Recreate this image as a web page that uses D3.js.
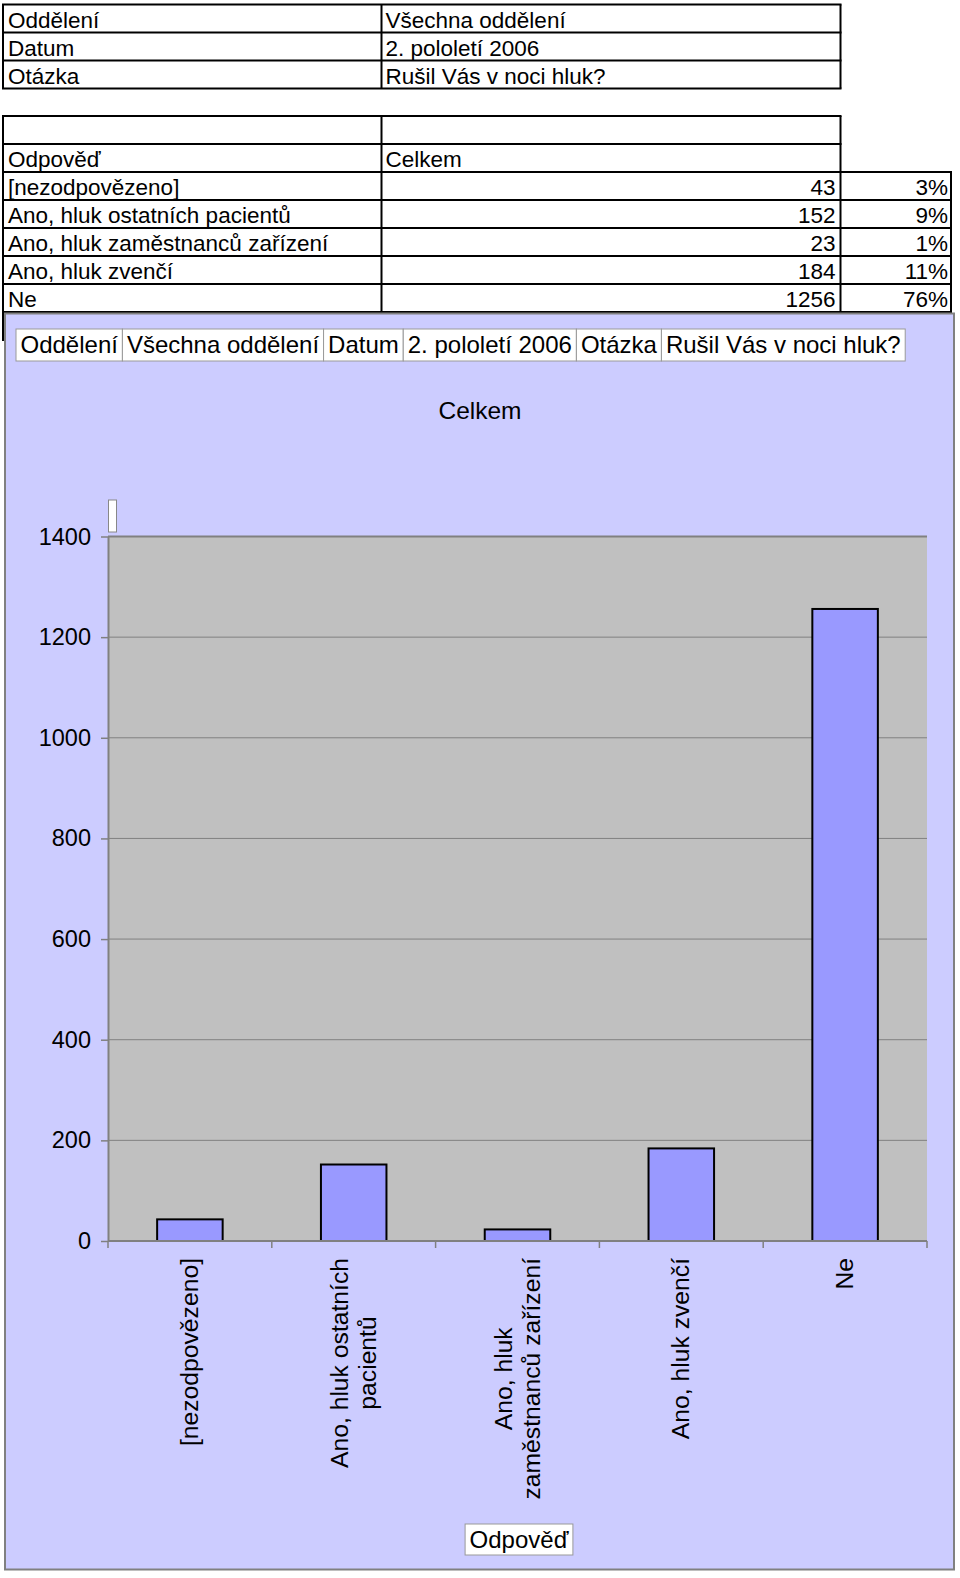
<!DOCTYPE html>
<html>
<head>
<meta charset="utf-8">
<script src="https://cdn.jsdelivr.net/npm/d3@7/dist/d3.min.js"></script>
<style>
  html, body { margin: 0; padding: 0; background: #ffffff; }
  svg { display: block; }
  text { font-family: "Liberation Sans", Arial, Helvetica, sans-serif; }
</style>
</head>
<body>
<svg id="chart" width="960" height="1578"></svg>
<script>
// ---------- data ----------
const infoLabels = ["Oddělení", "Datum", "Otázka"];
const infoValues = ["Všechna oddělení", "2. pololetí 2006", "Rušil Vás v noci hluk?"];
const tableHeader = ["Odpověď", "Celkem"];
const categories = ["[nezodpovězeno]", "Ano, hluk ostatních pacientů", "Ano, hluk zaměstnanců zařízení", "Ano, hluk zvenčí", "Ne"];
const counts = [43, 152, 23, 184, 1256];
const percents = ["3%", "9%", "1%", "11%", "76%"];
const categoryLabelLines = [["[nezodpovězeno]"], ["Ano, hluk ostatních", "pacientů"], ["Ano, hluk", "zaměstnanců zařízení"], ["Ano, hluk zvenčí"], ["Ne"]];
const headerCells = ["Oddělení", "Všechna oddělení", "Datum", "2. pololetí 2006", "Otázka", "Rušil Vás v noci hluk?"];
const chartTitle = "Celkem";
const xAxisTitle = "Odpověď";
const yTicks = [0, 200, 400, 600, 800, 1000, 1200, 1400];
const yMax = 1400;

// ---------- drawing ----------
const svg = d3.select("#chart");

// Tables
const colL = 3, colM = 381.5, colR = 840.5, colP = 951;
const rowH = 28;
const tFont = 22.5;
const tbl = svg.append("g");

function hline(x1, x2, y) {
  tbl.append("line").attr("x1", x1).attr("x2", x2).attr("y1", y).attr("y2", y)
    .attr("stroke", "#000").attr("stroke-width", 2);
}
function vline(x, y1, y2) {
  tbl.append("line").attr("x1", x).attr("x2", x).attr("y1", y1).attr("y2", y2)
    .attr("stroke", "#000").attr("stroke-width", 2);
}
function cellText(x, y, s, anchor) {
  tbl.append("text").attr("x", x).attr("y", y).attr("font-size", tFont)
    .attr("text-anchor", anchor || "start").attr("fill", "#000").text(s);
}

// table 1
const t1y = 4.5;
for (let i = 0; i <= infoLabels.length; i++) hline(colL - 1, colR + 1, t1y + i * rowH);
[colL, colM, colR].forEach(x => vline(x, t1y, t1y + infoLabels.length * rowH));
infoLabels.forEach((s, i) => {
  cellText(colL + 5, t1y + i * rowH + 23.5, s);
  cellText(colM + 4, t1y + i * rowH + 23.5, infoValues[i]);
});

// table 2
const t2y = 116;
const nRows = 2 + categories.length;
for (let i = 0; i <= nRows + 1; i++) {
  const y = t2y + i * rowH;
  hline(colL - 1, (i >= 2 ? colP : colR) + 1, y);
}
vline(colL, t2y, t2y + (nRows + 1) * rowH);
vline(colM, t2y, t2y + (nRows + 1) * rowH);
vline(colR, t2y, t2y + (nRows + 1) * rowH);
vline(colP, t2y + 2 * rowH, t2y + (nRows + 1) * rowH);
cellText(colL + 5, t2y + rowH + 23, tableHeader[0]);
cellText(colM + 4, t2y + rowH + 23, tableHeader[1]);
categories.forEach((c, i) => {
  const y = t2y + (i + 2) * rowH + 23;
  cellText(colL + 5, y, c);
  cellText(colR - 5, y, String(counts[i]), "end");
  cellText(colP - 3, y, percents[i], "end");
});

// Chart area
const chart = svg.append("g");
chart.append("rect").attr("x", 5).attr("y", 313.5).attr("width", 949).attr("height", 1256)
  .attr("fill", "#CCCCFF").attr("stroke", "#808080").attr("stroke-width", 2);

// Header cells
const hFont = 24, hPad = 4.5, hY = 329, hH = 32;
let hx = 16;
const hg = chart.append("g");
headerCells.forEach(s => {
  const g = hg.append("g");
  const r = g.append("rect").attr("y", hY).attr("height", hH)
    .attr("fill", "#fff").attr("stroke", "#999").attr("stroke-width", 1);
  const t = g.append("text").attr("x", hx + hPad).attr("y", hY + 24)
    .attr("font-size", hFont).attr("fill", "#000").text(s);
  const w = t.node().getComputedTextLength() + 2 * hPad;
  r.attr("x", hx).attr("width", w);
  hx += w;
});

// Title
chart.append("text").attr("x", 480).attr("y", 419).attr("text-anchor", "middle")
  .attr("font-size", 24.5).attr("fill", "#000").text(chartTitle);

// Plot
const pL = 108, pR = 927, pT = 536.5, pB = 1241;
const x = d3.scaleBand().domain(categories).range([pL, pR]).paddingInner(0.6).paddingOuter(0.3);
const y = d3.scaleLinear().domain([0, yMax]).range([pB, pT]);

chart.append("rect").attr("x", pL).attr("y", y(yMax)).attr("width", pR - pL).attr("height", pB - y(yMax))
  .attr("fill", "#C0C0C0");

// gridlines
chart.append("g").selectAll("line").data(yTicks.filter(d => d > 0)).join("line")
  .attr("x1", pL).attr("x2", pR).attr("y1", d => y(d)).attr("y2", d => y(d))
  .attr("stroke", "#808080").attr("stroke-width", d => d === yMax ? 2 : 1);

// small legend-like marker
chart.append("rect").attr("x", 108.5).attr("y", 500).attr("width", 8).attr("height", 32)
  .attr("fill", "#fff").attr("stroke", "#888").attr("stroke-width", 1);

// bars
chart.append("g").selectAll("rect").data(categories).join("rect")
  .attr("x", d => x(d)).attr("width", x.bandwidth())
  .attr("y", (d, i) => y(counts[i])).attr("height", (d, i) => pB - y(counts[i]))
  .attr("fill", "#9999FF").attr("stroke", "#000").attr("stroke-width", 2);

// y axis
const yAxis = d3.axisLeft(y).tickValues(yTicks).tickSize(7).tickSizeOuter(0).tickPadding(10).tickFormat(d3.format("d"));
const yg = chart.append("g").attr("transform", `translate(${pL},0)`).call(yAxis);
yg.select(".domain").attr("stroke", "#808080").attr("stroke-width", 2);
yg.selectAll(".tick line").attr("stroke", "#808080").attr("stroke-width", 1.5);
yg.selectAll(".tick text").attr("font-size", 23.5).attr("fill", "#000")
  .attr("font-family", "Liberation Sans, Arial, sans-serif");

// x axis: line and boundary ticks
const boundaries = d3.range(categories.length + 1).map(i => pL + i * (pR - pL) / categories.length);
chart.append("line").attr("x1", pL).attr("x2", pR).attr("y1", pB).attr("y2", pB)
  .attr("stroke", "#808080").attr("stroke-width", 2);
chart.append("g").selectAll("line").data(boundaries).join("line")
  .attr("x1", d => d).attr("x2", d => d).attr("y1", pB).attr("y2", pB + 7)
  .attr("stroke", "#808080").attr("stroke-width", 1.5);

// x labels (rotated)
const lFont = 24.7, lLine = 28, lTop = 1258;
categories.forEach((c, i) => {
  const cx = x(c) + x.bandwidth() / 2;
  const g = chart.append("g").attr("transform", `translate(${cx},${lTop}) rotate(-90)`);
  const lines = categoryLabelLines[i];
  const texts = lines.map((s, j) => g.append("text")
    .attr("font-size", lFont).attr("fill", "#000").attr("text-anchor", "middle")
    .attr("y", (j - (lines.length - 1) / 2) * lLine + 8).text(s));
  const maxW = d3.max(texts, t => t.node().getComputedTextLength());
  texts.forEach(t => t.attr("x", -maxW / 2));
});

// x axis title box
const tg = chart.append("g");
const tcx = 519;
const tr = tg.append("rect").attr("y", 1524).attr("height", 31)
  .attr("fill", "#fff").attr("stroke", "#999").attr("stroke-width", 1);
const tt = tg.append("text").attr("x", tcx).attr("y", 1548).attr("text-anchor", "middle")
  .attr("font-size", 24).attr("fill", "#000").text(xAxisTitle);
const tw = tt.node().getComputedTextLength() + 9;
tr.attr("x", tcx - tw / 2).attr("width", tw);
</script>
</body>
</html>
